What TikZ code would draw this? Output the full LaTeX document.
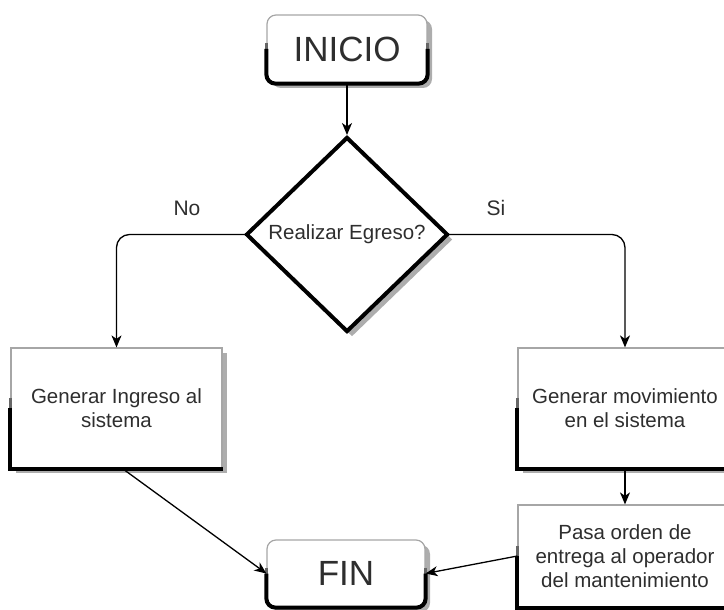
\documentclass[tikz,border=0pt]{standalone}
\usepackage{fontspec}
\setmainfont{Liberation Sans}
\usetikzlibrary{shapes.geometric,arrows.meta,shadows}

\tikzset{
  txt/.style={text=black!82, align=center, font=\fontsize{20.5}{24}\selectfont},
  shade4/.style={drop shadow={shadow xshift=5pt, shadow yshift=-5pt, fill=black!32, opacity=1}},
  procbox/.style={rectangle, fill=white, draw=black!35, line width=1.2pt, shade4, inner sep=0pt, txt},
  termbox/.style={procbox, rounded corners=9pt, font=\fontsize{35}{40}\selectfont},
  decision/.style={diamond, fill=white, draw=black, line width=4pt, shade4, inner sep=0pt, txt},
  heavyedge/.style={draw=black, line width=4pt},
  fadeedge/.style={draw=black!60, line width=2.5pt},
  conn/.style={draw=black, line width=1.3pt, -{Stealth[length=12pt,width=10pt,inset=3.5pt]}},
  branchlabel/.style={text=black!82, font=\fontsize{21}{24}\selectfont}
}

\begin{document}
\begin{tikzpicture}[x=1pt, y=-1pt]
  \useasboundingbox (0,0) rectangle (724,610);

  % shapes
  \node[termbox, minimum width=160pt, minimum height=68pt] (inicio) at (347,49) {INICIO};
  \node[decision, minimum width=202pt, minimum height=195pt] (egreso) at (347,234.5) {Realizar Egreso?};
  \node[procbox, minimum width=211pt, minimum height=120pt] (ingreso) at (116.5,408) {Generar Ingreso al\\sistema};
  \node[procbox, minimum width=214pt, minimum height=120pt] (movim) at (625,408) {Generar movimiento\\en el sistema};
  \node[procbox, minimum width=214pt, minimum height=102pt] (orden) at (625,556) {Pasa orden de\\entrega al operador\\del mantenimiento};
  \node[termbox, minimum width=158pt, minimum height=67pt] (fin) at (346,573.5) {FIN};

  % heavy lower edges of the boxes, fading in from grey above the middle
  \foreach \b in {ingreso,movim,orden}{
    \draw[fadeedge] ([yshift=10pt]\b.west) -- (\b.west);
    \draw[heavyedge] (\b.west) -- (\b.south west) -- (\b.south east);
  }
  \foreach \b in {inicio,fin}{
    \draw[fadeedge] ([yshift=6pt]\b.west) -- (\b.west);
    \draw[fadeedge] ([yshift=6pt]\b.east) -- (\b.east);
    \draw[heavyedge, rounded corners=9pt] (\b.west) -- (\b.south west) -- (\b.south east) -- (\b.east);
  }

  % connectors
  \draw[conn] (inicio.south) -- (egreso.north);
  \draw[conn, rounded corners=13pt] (egreso.west) -| (ingreso.north);
  \draw[conn, rounded corners=13pt] (egreso.east) -| (movim.north);
  \draw[conn] (movim.south) -- (orden.north);
  \draw[conn] ([xshift=6pt]ingreso.south) -- (fin.west);
  \draw[conn] (orden.west) -- (fin.east);

  % branch labels
  \node[branchlabel] (no) at (187,208) {No};
  \node[branchlabel] (si) at (496,208) {Si};
\end{tikzpicture}
\end{document}
